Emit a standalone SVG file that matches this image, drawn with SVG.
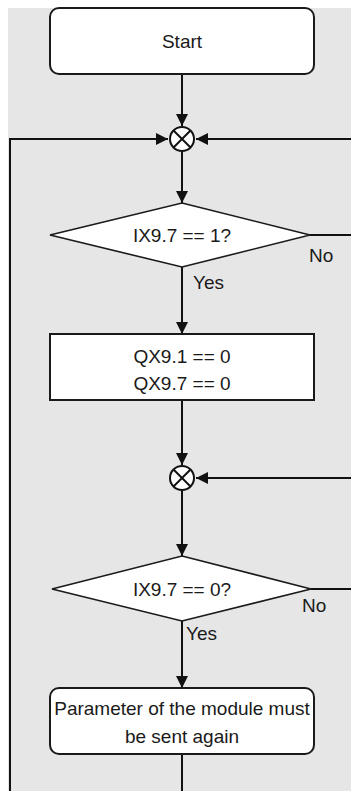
<svg xmlns="http://www.w3.org/2000/svg" width="351" height="791" viewBox="0 0 351 791">
  <style>
    .bg { fill: #e6e6e6; }
    .box { fill: #ffffff; stroke: #1a1a1a; stroke-width: 2; }
    .dia { fill: #ffffff; stroke: #1a1a1a; stroke-width: 1.6; }
    .con { fill: none; stroke: #111111; stroke-width: 2; }
    .jn { fill: #ffffff; stroke: #111111; stroke-width: 2; }
    .x { stroke: #111111; stroke-width: 2; }
    text { font-family: "Liberation Sans", Arial, sans-serif; font-size: 19px; fill: #1a1a1a; }
    .c { text-anchor: middle; }
  </style>
  <defs>
    <marker id="arr" markerWidth="12" markerHeight="12" refX="12" refY="6" orient="auto" markerUnits="userSpaceOnUse">
      <path d="M0,0 L12,6 L0,12 Z" fill="#111111"/>
    </marker>
  </defs>
  <rect class="bg" x="8" y="8" width="343" height="783"/>

  <g id="connectors">
    <line class="con" x1="182" y1="74" x2="182" y2="126" marker-end="url(#arr)"/>
    <polyline class="con" points="10,791 10,139 168,139" marker-end="url(#arr)"/>
    <line class="con" x1="351" y1="139" x2="196" y2="139" marker-end="url(#arr)"/>
    <line class="con" x1="182" y1="152" x2="182" y2="203" marker-end="url(#arr)"/>
    <line class="con" x1="310" y1="235" x2="351" y2="235"/>
    <line class="con" x1="182" y1="267" x2="182" y2="334" marker-end="url(#arr)"/>
    <line class="con" x1="182" y1="400" x2="182" y2="465" marker-end="url(#arr)"/>
    <line class="con" x1="351" y1="478" x2="196" y2="478" marker-end="url(#arr)"/>
    <line class="con" x1="182" y1="491" x2="182" y2="556" marker-end="url(#arr)"/>
    <line class="con" x1="311" y1="589" x2="351" y2="589"/>
    <line class="con" x1="182" y1="621" x2="182" y2="688" marker-end="url(#arr)"/>
    <line class="con" x1="182" y1="754" x2="182" y2="791"/>
    <text x="309" y="262">No</text>
    <text x="193" y="289">Yes</text>
    <text x="302" y="612">No</text>
    <text x="186" y="640">Yes</text>
  </g>

  <g id="start">
    <rect class="box" x="50" y="8" width="264" height="66" rx="9"/>
    <text class="c" x="182" y="48">Start</text>
  </g>

  <g id="junction1">
    <circle class="jn" cx="182" cy="139" r="12"/>
    <line class="x" x1="173.5" y1="130.5" x2="190.5" y2="147.5"/>
    <line class="x" x1="190.5" y1="130.5" x2="173.5" y2="147.5"/>
  </g>

  <g id="decision1">
    <polygon class="dia" points="182,203 310,235 182,267 50,235"/>
    <text class="c" x="182" y="242">IX9.7 == 1?</text>
  </g>

  <g id="process1">
    <rect class="box" x="50" y="334" width="264" height="66"/>
    <text class="c" x="182" y="363">QX9.1 == 0</text>
    <text class="c" x="182" y="390">QX9.7 == 0</text>
  </g>

  <g id="junction2">
    <circle class="jn" cx="182" cy="478" r="12"/>
    <line class="x" x1="173.5" y1="469.5" x2="190.5" y2="486.5"/>
    <line class="x" x1="190.5" y1="469.5" x2="173.5" y2="486.5"/>
  </g>

  <g id="decision2">
    <polygon class="dia" points="182,556 311,589 182,621 52,589"/>
    <text class="c" x="182" y="596">IX9.7 == 0?</text>
  </g>

  <g id="process2">
    <rect class="box" x="50" y="688" width="264" height="66" rx="9"/>
    <text class="c" x="182" y="715">Parameter of the module must</text>
    <text class="c" x="182" y="743">be sent again</text>
  </g>
</svg>
